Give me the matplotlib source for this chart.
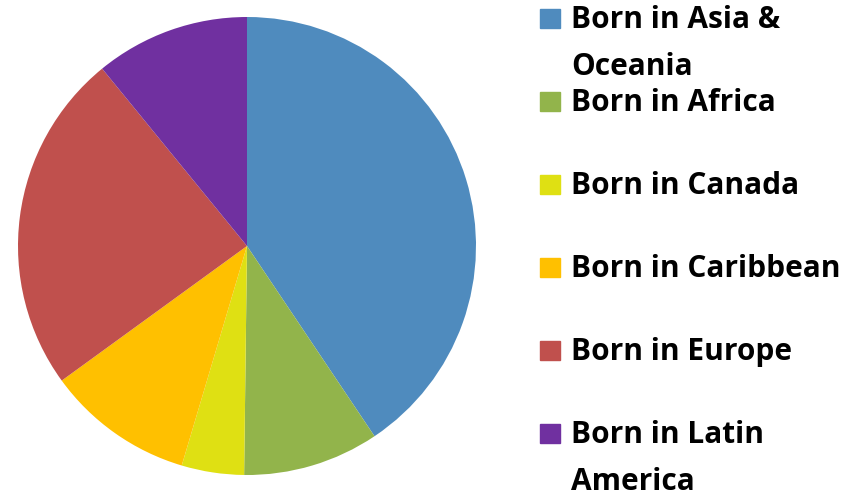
import matplotlib.pyplot as plt
from matplotlib.patches import Rectangle

labels = ["Born in Asia &\nOceania", "Born in Africa", "Born in Canada",
          "Born in Caribbean", "Born in Europe", "Born in Latin\nAmerica"]
shares = [40.6, 9.6, 4.4, 10.4, 24.1, 10.9]
colors = ["#4F8BBE", "#92B44B", "#DFE013", "#FFC000", "#C0504D", "#7030A0"]

W, H = 867, 495
fig = plt.figure(figsize=(W / 100, H / 100), dpi=100)

# pie: centre (247, 246) px, radius 229 px
cx, cy, r = 247, 246, 229
ax = fig.add_axes([(cx - r) / W, (H - cy - r) / H, 2 * r / W, 2 * r / H])
ax.pie(shares, colors=colors, startangle=90, counterclock=False, radius=1,
       wedgeprops=dict(linewidth=0))
ax.set_xlim(-1, 1)
ax.set_ylim(-1, 1)
ax.set_aspect("equal")
ax.axis("off")

# legend drawn by hand so the square sits on the first line
base0, step, line_gap = 28, 83, 47
for i, (lab, col) in enumerate(zip(labels, colors)):
    b = base0 + i * step
    fig.patches.append(Rectangle((540 / W, 1 - b / H), 20 / W, 19 / H,
                                 transform=fig.transFigure, color=col))
    for j, line in enumerate(lab.split("\n")):
        fig.text(571 / W, 1 - (b + j * line_gap) / H, line, fontsize=21.5,
                 fontweight="bold", family="Open Sans", va="baseline", ha="left")

fig.savefig("out.png", dpi=100)
